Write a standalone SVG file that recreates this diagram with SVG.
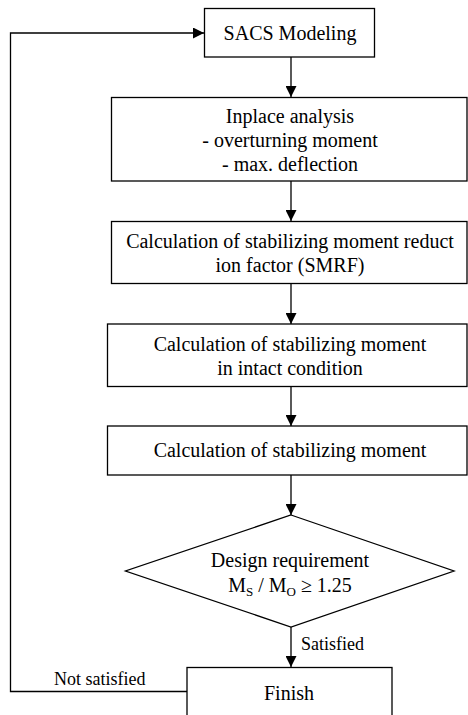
<svg xmlns="http://www.w3.org/2000/svg" width="468" height="715" viewBox="0 0 468 715">
<defs>
<marker id="arr" viewBox="0 0 11 11" refX="11" refY="5.5" markerWidth="11" markerHeight="11" markerUnits="userSpaceOnUse" orient="auto">
<path d="M0,0 L11,5.5 L0,11 Z" fill="#000"/>
</marker>
<style>
.box{fill:#fff;stroke:#000;stroke-width:1.3}
.t{font-family:"Liberation Serif","Times New Roman",serif;font-size:20px;fill:#000;text-anchor:middle}
.l{font-family:"Liberation Serif","Times New Roman",serif;font-size:18px;fill:#000}
.c{fill:none;stroke:#000;stroke-width:1.3;marker-end:url(#arr)}
.cn{fill:none;stroke:#000;stroke-width:1.3}
</style>
</defs>
<rect width="468" height="715" fill="#fff"/>
<g id="connectors">
<line class="c" x1="291" y1="57" x2="291" y2="97"/>
<line class="c" x1="291" y1="181" x2="291" y2="221"/>
<line class="c" x1="291" y1="284" x2="291" y2="324"/>
<line class="c" x1="291" y1="387" x2="291" y2="426"/>
<line class="c" x1="291" y1="475" x2="291" y2="515"/>
<line class="c" x1="291" y1="627" x2="291" y2="667"/>
<path class="c" d="M187,691.5 H10.5 V33 H204"/>
<text class="l" x="301" y="650">Satisfied</text>
<text class="l" x="54" y="685">Not satisfied</text>
</g>
<g id="n1">
<rect class="box" x="204.5" y="8.5" width="170" height="48.5"/>
<text class="t" x="290" y="40">SACS Modeling</text>
</g>
<g id="n2">
<rect class="box" x="111.5" y="97.5" width="355.5" height="83.5"/>
<text class="t" x="290" y="123">Inplace analysis</text>
<text class="t" x="290" y="147">- overturning moment</text>
<text class="t" x="290" y="171">- max. deflection</text>
</g>
<g id="n3">
<rect class="box" x="111.5" y="221.5" width="355.5" height="62"/>
<text class="t" x="290" y="248">Calculation of stabilizing moment reduct</text>
<text class="t" x="290" y="272">ion factor (SMRF)</text>
</g>
<g id="n4">
<rect class="box" x="107.5" y="324" width="359.5" height="62.5"/>
<text class="t" x="290" y="351">Calculation of stabilizing moment</text>
<text class="t" x="290" y="375">in intact condition</text>
</g>
<g id="n5">
<rect class="box" x="107.5" y="426" width="359.5" height="49"/>
<text class="t" x="290" y="457">Calculation of stabilizing moment</text>
</g>
<g id="n6">
<polygon class="box" points="291,515 454,571 291,627 125.5,571"/>
<text class="t" x="290" y="567">Design requirement</text>
<text class="t" x="290" y="592">M<tspan font-size="13" dy="4">S</tspan><tspan dy="-4"> / M</tspan><tspan font-size="13" dy="4">O</tspan><tspan dy="-4"> ≥ 1.25</tspan></text>
</g>
<g id="n7">
<rect class="box" x="187" y="667.5" width="205" height="60"/>
<text class="t" x="289" y="700">Finish</text>
</g>
</svg>
